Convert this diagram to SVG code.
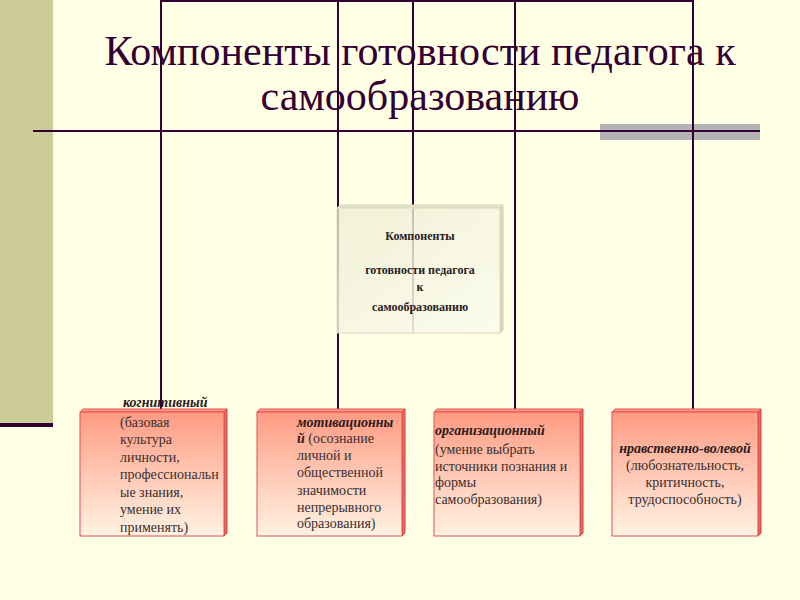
<svg xmlns="http://www.w3.org/2000/svg" width="800" height="600" viewBox="0 0 800 600">
  <defs>
    <linearGradient id="redGrad" x1="0" y1="0" x2="0" y2="1">
      <stop offset="0" stop-color="#FF9A82"/>
      <stop offset="0.5" stop-color="#FFC8B4"/>
      <stop offset="1" stop-color="#FFF2E2"/>
    </linearGradient>
    <linearGradient id="centerGrad" x1="0" y1="0" x2="1" y2="1">
      <stop offset="0" stop-color="#EDEDD2" stop-opacity="0.75"/>
      <stop offset="0.6" stop-color="#F6F6E4" stop-opacity="0.85"/>
      <stop offset="1" stop-color="#FCFCEE" stop-opacity="0.97"/>
    </linearGradient>
    <style>
      .ln { stroke: #330033; stroke-width: 2; fill: none; }
      .redface { fill: url(#redGrad); stroke: #E05050; stroke-width: 1; }
      .redtop { fill: #FF9C8A; stroke: #E05050; stroke-width: 1; }
      .redside { fill: #E86A60; stroke: #D04040; stroke-width: 1; }
      .cface { fill: url(#centerGrad); stroke: #DADAC0; stroke-width: 1; }
      .ctop { fill: #E4E4CC; stroke: #D6D6BC; stroke-width: 1; }
      .cside { fill: #D8D8BC; stroke: #CFCFB4; stroke-width: 1; }
    </style>
  </defs>

  <rect x="0" y="0" width="800" height="600" fill="#FFFFE6"/>
  <rect x="0" y="0" width="53" height="423" fill="#CCCC99"/>
  <rect x="0" y="423" width="53" height="4" fill="#330033"/>
  <rect x="600" y="124" width="160" height="16" fill="#B3B3B3"/>

  <g id="title" fill="#330033" text-anchor="middle">
    <text font-family="Liberation Serif" font-size="42" x="420" y="65">Компоненты готовности педагога к</text>
    <text font-family="Liberation Serif" font-size="42" x="420" y="110">самообразованию</text>
  </g>

  <g id="connectors">
    <line class="ln" x1="161" y1="1" x2="693" y2="1"/>
    <line class="ln" x1="33" y1="131" x2="760" y2="131"/>
    <line class="ln" x1="161" y1="0" x2="161" y2="409"/>
    <line class="ln" x1="338" y1="0" x2="338" y2="409"/>
    <line class="ln" x1="413" y1="0" x2="413" y2="333"/>
    <line class="ln" x1="515" y1="0" x2="515" y2="409"/>
    <line class="ln" x1="693" y1="0" x2="693" y2="409"/>
  </g>

  <g id="center">
    <polygon class="ctop" points="337,208 340,205 503,205 500,208"/>
    <polygon class="cside" points="500,208 503,205 503,330 500,333"/>
    <rect class="cface" x="337" y="208" width="163" height="125"/>
    <g fill="#2A2020" text-anchor="middle" font-weight="bold">
      <text font-family="Liberation Serif" font-size="12" x="420" y="240">Компоненты</text>
      <text font-family="Liberation Serif" font-size="12" x="420" y="274">готовности педагога</text>
      <text font-family="Liberation Serif" font-size="12" x="420" y="291">к</text>
      <text font-family="Liberation Serif" font-size="12" x="420" y="311">самообразованию</text>
    </g>
  </g>

  <g id="box1">
    <polygon class="redtop" points="80,412 83,409 227,409 224,412"/>
    <polygon class="redside" points="224,412 227,409 227,533 224,536"/>
    <rect class="redface" x="80" y="412" width="144" height="124"/>
    <g fill="#3A2E2E">
      <text font-family="Liberation Serif" font-size="14" font-weight="bold" font-style="italic" fill="#2A1A1A" x="123" y="407">когнитивный</text>
      <text font-family="Liberation Serif" font-size="14" x="120" y="427">(базовая</text>
      <text font-family="Liberation Serif" font-size="14" x="120" y="444">культура</text>
      <text font-family="Liberation Serif" font-size="14" x="120" y="462">личности,</text>
      <text font-family="Liberation Serif" font-size="14" x="120" y="479">профессиональн</text>
      <text font-family="Liberation Serif" font-size="14" x="120" y="497">ые знания,</text>
      <text font-family="Liberation Serif" font-size="14" x="120" y="514">умение их</text>
      <text font-family="Liberation Serif" font-size="14" x="120" y="532">применять)</text>
    </g>
  </g>

  <g id="box2">
    <polygon class="redtop" points="257,412 260,409 405,409 402,412"/>
    <polygon class="redside" points="402,412 405,409 405,533 402,536"/>
    <rect class="redface" x="257" y="412" width="145" height="124"/>
    <g fill="#3A2E2E">
      <text font-family="Liberation Serif" font-size="14" font-weight="bold" font-style="italic" fill="#2A1A1A" x="297" y="427">мотивационны</text>
      <text font-family="Liberation Serif" font-size="14" x="297" y="443"><tspan font-weight="bold" font-style="italic" fill="#2A1A1A">й</tspan> (осознание</text>
      <text font-family="Liberation Serif" font-size="14" x="297" y="460">личной и</text>
      <text font-family="Liberation Serif" font-size="14" x="297" y="477">общественной</text>
      <text font-family="Liberation Serif" font-size="14" x="297" y="495">значимости</text>
      <text font-family="Liberation Serif" font-size="14" x="297" y="512">непрерывного</text>
      <text font-family="Liberation Serif" font-size="14" x="297" y="528">образования)</text>
    </g>
  </g>

  <g id="box3">
    <polygon class="redtop" points="434,412 437,409 583,409 580,412"/>
    <polygon class="redside" points="580,412 583,409 583,533 580,536"/>
    <rect class="redface" x="434" y="412" width="146" height="124"/>
    <g fill="#3A2E2E">
      <text font-family="Liberation Serif" font-size="14" font-weight="bold" font-style="italic" fill="#2A1A1A" x="435" y="435">организационный</text>
      <text font-family="Liberation Serif" font-size="14" x="435" y="454">(умение выбрать</text>
      <text font-family="Liberation Serif" font-size="14" x="435" y="471">источники познания и</text>
      <text font-family="Liberation Serif" font-size="14" x="435" y="487">формы</text>
      <text font-family="Liberation Serif" font-size="14" x="435" y="504">самообразования)</text>
    </g>
  </g>

  <g id="box4">
    <polygon class="redtop" points="612,412 615,409 761,409 758,412"/>
    <polygon class="redside" points="758,412 761,409 761,533 758,536"/>
    <rect class="redface" x="612" y="412" width="146" height="124"/>
    <g fill="#3A2E2E" text-anchor="middle">
      <text font-family="Liberation Serif" font-size="14" font-weight="bold" font-style="italic" fill="#2A1A1A" x="685" y="453">нравственно-волевой</text>
      <text font-family="Liberation Serif" font-size="14" x="685" y="470">(любознательность,</text>
      <text font-family="Liberation Serif" font-size="14" x="685" y="487">критичность,</text>
      <text font-family="Liberation Serif" font-size="14" x="685" y="504">трудоспособность)</text>
    </g>
  </g>
</svg>
